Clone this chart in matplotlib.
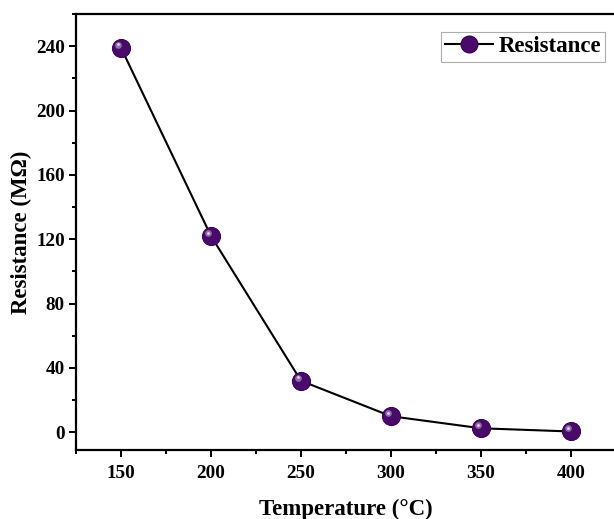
import matplotlib
matplotlib.use("Agg")
import matplotlib.pyplot as plt
from matplotlib.ticker import MultipleLocator
from matplotlib.transforms import offset_copy
from matplotlib.lines import Line2D

temperature = [150, 200, 250, 300, 350, 400]
resistance = [239, 122, 32, 10, 2.5, 0.5]

plt.rcParams['font.family'] = ['Liberation Serif', 'DejaVu Serif']
plt.rcParams['font.weight'] = 'bold'

fig = plt.figure(figsize=(6.14, 5.19), dpi=100)
ax = fig.add_axes([76/614, 69/519, 540/614, 436/519])

purple = '#4a0a6a'
ax.plot(temperature, resistance, color='black', lw=1.5, zorder=2)
ax.plot(temperature, resistance, ls='none', marker='o', ms=13,
        mfc=purple, mec='#3a0656', mew=0.8, zorder=3)
# specular highlight on each sphere
hl = offset_copy(ax.transData, fig=fig, x=-2.3, y=2.3, units='points')
ax.plot(temperature, resistance, ls='none', marker='o', ms=4.8,
        mfc='#9a78b0', mec='none', alpha=0.9, transform=hl, zorder=4)
hl2 = offset_copy(ax.transData, fig=fig, x=-2.5, y=2.5, units='points')
ax.plot(temperature, resistance, ls='none', marker='o', ms=2,
        mfc='#e0d4ea', mec='none', transform=hl2, zorder=5)

ax.set_xlim(125, 425)
ax.set_ylim(-11, 260)
ax.xaxis.set_major_locator(MultipleLocator(50))
ax.xaxis.set_minor_locator(MultipleLocator(25))
ax.yaxis.set_major_locator(MultipleLocator(40))
ax.yaxis.set_minor_locator(MultipleLocator(20))
ax.tick_params(which='both', direction='out', width=1.4, labelsize=13.8)
ax.tick_params(which='major', length=5)
ax.tick_params(which='minor', length=3)
ax.tick_params(axis='x', pad=6)
ax.tick_params(axis='y', pad=3)
for lab in ax.get_xticklabels() + ax.get_yticklabels():
    lab.set_fontweight('bold')
for s in ax.spines.values():
    s.set_linewidth(1.6)

ax.set_xlabel('Temperature (°C)', fontsize=16.5, fontweight='bold', labelpad=12)
ax.set_ylabel('Resistance (MΩ)', fontsize=16.5, fontweight='bold', labelpad=3)

handle = Line2D([], [], color='black', lw=1.5, marker='o', ms=12,
                mfc=purple, mec='#3a0656')
leg = ax.legend([handle], ['Resistance'], loc='upper left',
                bbox_to_anchor=(0.675, 0.958), fontsize=16.5, frameon=True,
                fancybox=False, edgecolor='#999999', handlelength=2.1,
                borderpad=0.18, handletextpad=0.25, borderaxespad=0)
leg.get_frame().set_linewidth(0.8)
for t in leg.get_texts():
    t.set_fontweight('bold')

fig.savefig('out.png', dpi=100)
